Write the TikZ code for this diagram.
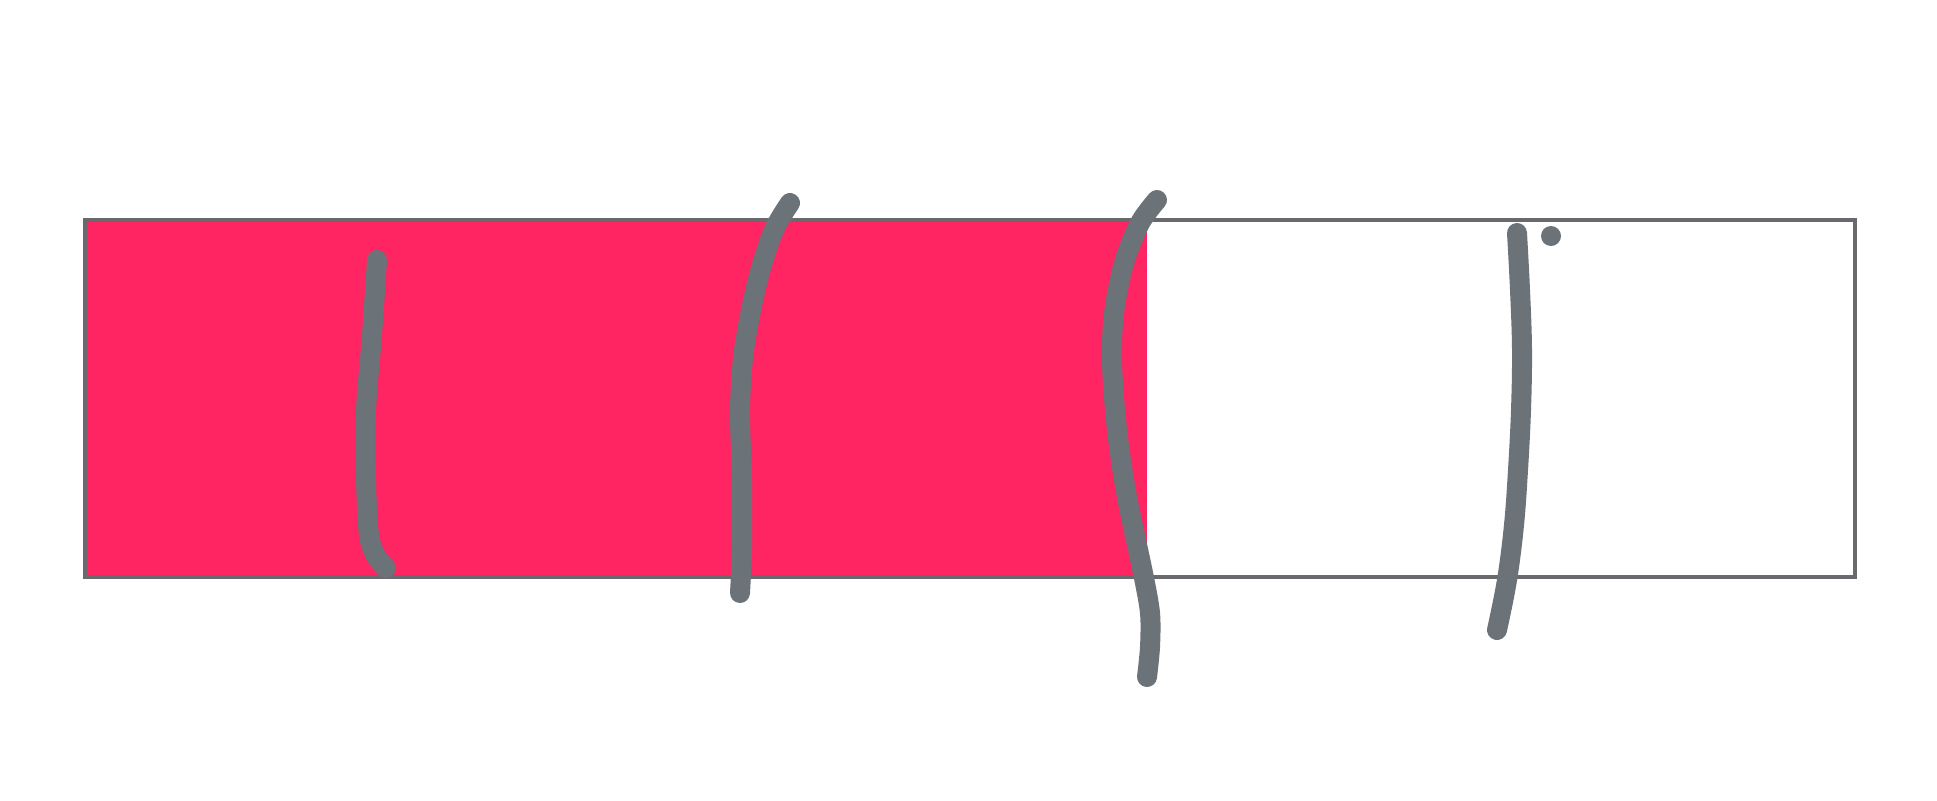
\documentclass[tikz,border=0pt]{standalone}
\usetikzlibrary{calc}
\definecolor{barred}{RGB}{255,36,98}
\definecolor{framegray}{RGB}{105,105,110}
\definecolor{inkgray}{RGB}{108,115,120}
\tikzset{
  frame/.style={draw=framegray, line width=3.5pt},
  ink/.style={draw=inkgray, line width=20pt, line cap=round, line join=round}
}
\begin{document}
\begin{tikzpicture}[x=1pt,y=-1pt]
\useasboundingbox[fill=white] (0,0) rectangle (1937,800);
\fill[barred] (85,220) rectangle (1147,577);
\draw[frame] (85,220) rectangle (1855,577);
% strokes
\draw[ink] plot[smooth, tension=0.5] coordinates {(377,260) (372,335) (366,410) (366,480) (369,535) (376,556) (386,568)};
\draw[ink] plot[smooth, tension=0.5] coordinates {(790,203) (773,232) (757,283) (744,350) (740,410) (742,480) (742,547) (740,593)};
\draw[ink] plot[smooth, tension=0.5] coordinates {(1157,200) (1140,223) (1124,263) (1114,313) (1112,363) (1117,430) (1127,497) (1143,573) (1150,613) (1150,647) (1147,677)};
\draw[ink] plot[smooth, tension=0.6] coordinates {(1517,233) (1520,290) (1522,350) (1521,410) (1518,470) (1514,525) (1507,580) (1497,630)};
\fill[inkgray] (1551,236) circle (10);
\end{tikzpicture}
\end{document}
